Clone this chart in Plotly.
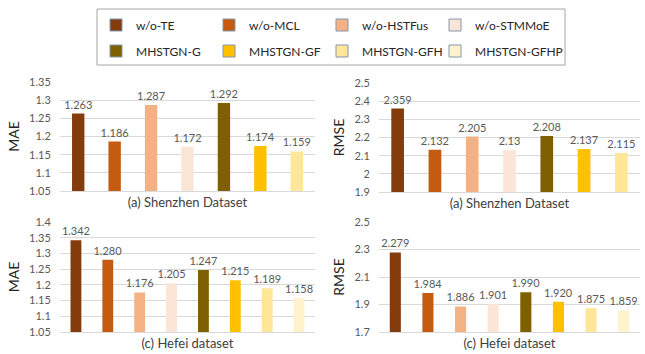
import plotly.graph_objects as go

models = ["w/o-TE", "w/o-MCL", "w/o-HSTFus", "w/o-STMMoE",
          "MHSTGN-G", "MHSTGN-GF", "MHSTGN-GFH", "MHSTGN-GFHP"]
colors = ["#843C0C", "#C55A11", "#F4B183", "#FBE5D6",
          "#7F6000", "#FFC000", "#FFE699", "#FFF2CC"]

sz_mae = [1.263, 1.186, 1.287, 1.172, 1.292, 1.174, 1.159]
sz_rmse = [2.359, 2.132, 2.205, 2.13, 2.208, 2.137, 2.115]
hf_mae = [1.342, 1.280, 1.176, 1.205, 1.247, 1.215, 1.189, 1.158]
hf_rmse = [2.279, 1.984, 1.886, 1.901, 1.990, 1.920, 1.875, 1.859]

FONT = "Lato"
TICK = "#595959"
TITLE = "#404040"
W, H = 645, 354

fig = go.Figure()

panels = [
    ("x", "y", sz_mae, "%{y}"),
    ("x2", "y2", sz_rmse, "%{y}"),
    ("x3", "y3", hf_mae, "%{y:.3f}"),
    ("x4", "y4", hf_rmse, "%{y:.3f}"),
]
for xa, ya, vals, tt in panels:
    n = len(vals)
    fig.add_trace(go.Bar(
        x=models[:n], y=vals, xaxis=xa, yaxis=ya,
        marker=dict(color=colors[:n], line=dict(width=0)),
        texttemplate=tt, textposition="outside", cliponaxis=False,
        constraintext="none",
        textfont=dict(family=FONT, size=11, color=TICK),
        showlegend=False, hoverinfo="skip",
    ))

# one small legend per entry, placed in a 4 x 2 grid
col_px = [110, 223, 336, 449]
row_px = [25, 51]
legends = {}
for i, (m, c) in enumerate(zip(models, colors)):
    key = "legend" if i == 0 else f"legend{i + 1}"
    fig.add_trace(go.Bar(
        x=[None], y=[None], name=m, xaxis="x", yaxis="y",
        marker=dict(color=c, line=dict(color="#8497B0", width=1)),
        showlegend=True, legend=key,
    ))
    legends[key] = dict(
        x=(col_px[i % 4] - 14) / W, y=1 - row_px[i // 4] / H,
        xanchor="left", yanchor="middle",
        bgcolor="rgba(0,0,0,0)", borderwidth=0,
        itemwidth=30,
        font=dict(family=FONT, size=12, color="#262626"),
        itemclick=False, itemdoubleclick=False,
    )

def xax(domain, title, anchor):
    return dict(domain=domain, showticklabels=False, ticks="",
                showline=True, linecolor="#D9D9D9", linewidth=1,
                showgrid=False, anchor=anchor,
                title=dict(text=title, standoff=6,
                           font=dict(family=FONT, size=13, color=TITLE)))

def yax(domain, rng, dtick, title, anchor):
    return dict(domain=domain, range=rng, dtick=dtick, tick0=rng[0],
                showgrid=True, gridcolor="#D9D9D9", gridwidth=1,
                zeroline=False, showline=False, anchor=anchor,
                ticks="outside", ticklen=6, tickcolor="rgba(0,0,0,0)",
                tickfont=dict(family=FONT, size=11, color=TICK),
                title=dict(text=title, standoff=6,
                           font=dict(family=FONT, size=14, color="#262626")))

lx = [60 / W, 315 / W]
rx = [379 / W, 640 / W]
by = [1 - 332 / H, 1 - 222 / H]

fig.update_layout(
    width=W, height=H,
    margin=dict(l=0, r=0, t=0, b=0, autoexpand=False),
    paper_bgcolor="white", plot_bgcolor="white",
    bargap=0.66,
    font=dict(family=FONT),
    xaxis=xax(lx, "(a) Shenzhen Dataset", "y"),
    yaxis=yax([1 - 191 / H, 1 - 82 / H], [1.05, 1.35], 0.05, "MAE", "x"),
    xaxis2=xax(rx, "(a) Shenzhen Dataset", "y2"),
    yaxis2=yax([1 - 192 / H, 1 - 83 / H], [1.9, 2.5], 0.1, "RMSE", "x2"),
    xaxis3=xax(lx, "(c) Hefei dataset", "y3"),
    yaxis3=yax(by, [1.05, 1.4], 0.05, "MAE", "x3"),
    xaxis4=xax(rx, "(c) Hefei dataset", "y4"),
    yaxis4=yax(by, [1.7, 2.5], 0.2, "RMSE", "x4"),
    shapes=[dict(type="rect", xref="paper", yref="paper",
                 x0=97 / W, x1=565 / W, y0=1 - 65 / H, y1=1 - 9 / H,
                 line=dict(color="#A6A6A6", width=1), fillcolor="rgba(0,0,0,0)")],
    **legends,
)

fig.write_html("out.html",
               config={"displayModeBar": False},
               post_script="document.body.style.margin='0';"
                           "document.body.style.overflow='hidden';")
